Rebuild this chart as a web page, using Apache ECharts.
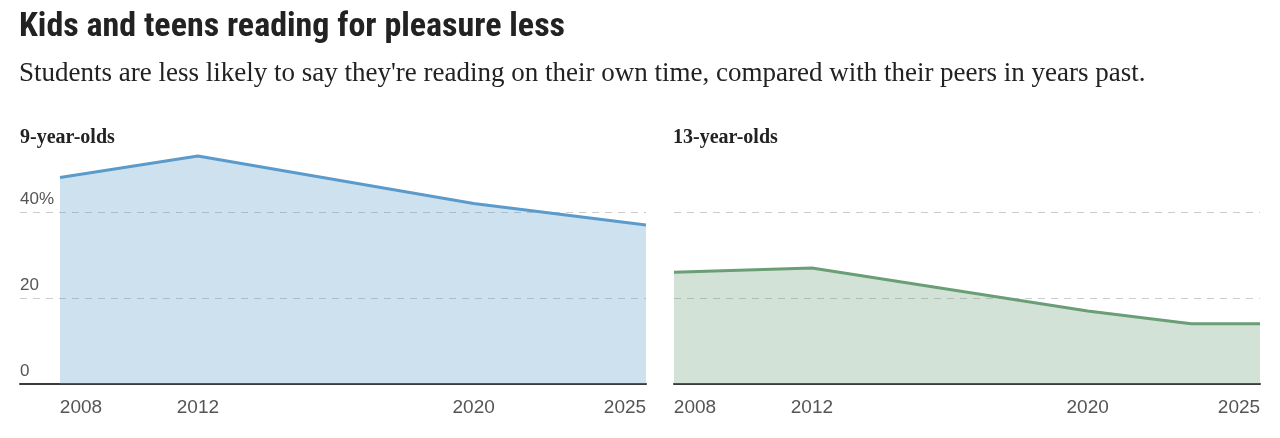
<!DOCTYPE html>
<html>
<head>
<meta charset="utf-8">
<script src="https://cdn.jsdelivr.net/npm/echarts@6/dist/echarts.min.js"></script>
<style>
  html, body { margin: 0; padding: 0; background: #fff; }
  #chart { width: 1280px; height: 438px; }
</style>
</head>
<body>
<div id="chart"></div>
<script>
// data (share of students reading for fun, %)
const years9 = [2008, 2012, 2020, 2025]
const values9 = [48, 53, 42, 37]
const years13 = [2008, 2012, 2020, 2023, 2025]
const values13 = [26, 27, 17, 14, 14]
const yearTicks = [2008, 2012, 2020, 2025]
const yTicks = [0, 20, 40]

const pairs = (xs, ys) => xs.map((x, i) => [x, ys[i]])

const chart = echarts.init(document.getElementById('chart'))

// the left panel's axis line starts 40px before 2008 (room for y labels)
const pxPerYear = 586 / (2025 - 2008)
const leftMin = 2008 - 40 / pxPerYear

const labelFont = 'Liberation Sans, Arial, sans-serif'
const yearLabel = {
  margin: 14,
  customValues: yearTicks,
  formatter: function (v) {
    if (v === yearTicks[0]) return '{first|' + v + '}'
    if (v === yearTicks[yearTicks.length - 1]) return '{last|' + v + '}'
    return '{mid|' + v + '}'
  },
  rich: {
    first: { fontSize: 19, color: '#555', fontFamily: labelFont, padding: [0, 0, 0, 42] },
    mid: { fontSize: 19, color: '#555', fontFamily: labelFont },
    last: { fontSize: 19, color: '#555', fontFamily: labelFont, padding: [0, 42, 0, 0] }
  }
}

function xAxis(gridIndex, min) {
  return {
    type: 'value',
    gridIndex: gridIndex,
    min: min,
    max: 2025,
    axisLine: { show: true, lineStyle: { color: '#3a3a3a', width: 2 } },
    axisTick: { show: false },
    splitLine: { show: false },
    axisLabel: yearLabel
  }
}

function yAxis(gridIndex, showLabels) {
  return {
    type: 'value',
    gridIndex: gridIndex,
    min: 0,
    max: 60,
    interval: 20,
    axisLine: { show: false },
    axisTick: { show: false },
    splitLine: {
      show: true,
      showMaxLine: false,
      lineStyle: { color: '#cccccc', type: [7, 6], width: 1 }
    },
    axisLabel: {
      show: showLabels,
      inside: true,
      margin: 0,
      showMaxLabel: false,
      verticalAlign: 'bottom',
      padding: [0, 0, 4, 0],
      fontSize: 17,
      color: '#555',
      fontFamily: labelFont,
      formatter: v => (yTicks.indexOf(v) < 0 ? '' : v === 40 ? v + '%' : String(v))
    }
  }
}

function areaSeries(idx, data, line, fill) {
  return {
    type: 'line',
    xAxisIndex: idx,
    yAxisIndex: idx,
    data: data,
    showSymbol: false,
    lineStyle: { color: line, width: 3 },
    areaStyle: { color: fill, opacity: 1 },
    z: 1
  }
}

chart.setOption({
  animation: false,
  title: [
    {
      text: 'Kids and teens reading for pleasure less',
      left: 19, top: 10, padding: 0,
      textStyle: { fontFamily: 'Liberation Sans Narrow, Roboto Condensed, Roboto, sans-serif', fontWeight: 'bold', fontSize: 34, color: '#222' }
    },
    {
      text: "Students are less likely to say they're reading on their own time, compared with their peers in years past.",
      left: 19, top: 60, padding: 0,
      textStyle: { fontFamily: 'Liberation Serif, serif', fontWeight: 'normal', fontSize: 27, color: '#222' }
    },
    {
      text: '9-year-olds',
      left: 20, top: 128, padding: 0,
      textStyle: { fontFamily: 'Liberation Serif, serif', fontWeight: 'bold', fontSize: 20, color: '#222' }
    },
    {
      text: '13-year-olds',
      left: 673, top: 128, padding: 0,
      textStyle: { fontFamily: 'Liberation Serif, serif', fontWeight: 'bold', fontSize: 20, color: '#222' }
    }
  ],
  grid: [
    { left: 20, width: 626, top: 126, height: 258 },
    { left: 674, width: 586, top: 126, height: 258 }
  ],
  xAxis: [xAxis(0, leftMin), xAxis(1, 2008)],
  yAxis: [yAxis(0, true), yAxis(1, false)],
  series: [
    areaSeries(0, pairs(years9, values9), '#5b9bcb', 'rgba(91,155,203,0.3)'),
    areaSeries(1, pairs(years13, values13), '#6a9e76', 'rgba(106,158,118,0.3)')
  ]
})
</script>
</body>
</html>
